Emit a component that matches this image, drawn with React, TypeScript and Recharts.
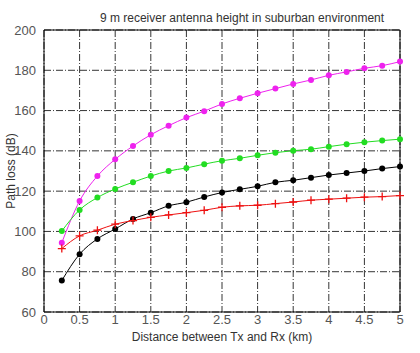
import React from "react";
import { CartesianGrid, Line, LineChart, ReferenceLine, XAxis, YAxis } from "recharts";

const distances = [0.25, 0.5, 0.75, 1, 1.25, 1.5, 1.75, 2, 2.25, 2.5, 2.75, 3, 3.25, 3.5, 3.75, 4, 4.25, 4.5, 4.75, 5];
const magentaLoss = [94.4, 115.1, 127.5, 135.8, 142.4, 148, 152.5, 156.5, 159.7, 163.3, 166.1, 168.6, 170.9, 173.2, 175.2, 177.5, 179.2, 181, 182.3, 184.3];
const greenLoss = [100.2, 110.7, 116.8, 121.1, 124.4, 127.5, 130, 131.5, 133.4, 135.1, 136.3, 137.8, 139.1, 140.1, 140.8, 142.1, 143.3, 144.3, 145.1, 145.8];
const blackLoss = [75.6, 88.7, 96.3, 101.2, 106.2, 109.3, 112.7, 114.5, 117.1, 119.3, 120.9, 122.4, 124.4, 125.4, 126.7, 128, 129, 130, 131.2, 132.2];
const redLoss = [91.5, 97.8, 100.6, 103.6, 105.4, 107, 108.2, 109.3, 110.5, 112, 112.7, 113, 113.8, 114.6, 115.5, 116, 116.5, 117, 117.3, 117.8];
const xTicks = [0, 0.5, 1, 1.5, 2, 2.5, 3, 3.5, 4, 4.5, 5];
const yTicks = [60, 80, 100, 120, 140, 160, 180, 200];

const data = distances.map((d, i) => ({
  d,
  magenta: magentaLoss[i],
  green: greenLoss[i],
  black: blackLoss[i],
  red: redLoss[i]
}));

const font = "'Liberation Sans', Arial, sans-serif";

const PlusDot = (props: any) => {
  const { cx, cy, index } = props;
  return (
    <path
      key={`p-${index}`}
      d={`M${cx - 4},${cy}H${cx + 4}M${cx},${cy - 4}V${cy + 4}`}
      stroke="#ee1111"
      strokeWidth={1.3}
    />
  );
};

export default function App() {
  return (
    <div style={{ position: "absolute", left: 0, top: 0, width: 420, height: 353, background: "#fff", fontFamily: font }}>
      <div style={{ position: "absolute", top: 11, left: 0, width: 484, textAlign: "center", fontSize: 12, color: "#333" }}>
        9 m receiver antenna height in suburban environment
      </div>
      <LineChart width={420} height={353} data={data} margin={{ top: 30, right: 20, left: 0, bottom: 0 }}>
        <CartesianGrid stroke="#000" strokeDasharray="7 2 1 2" strokeWidth={0.8} />
        <XAxis
          dataKey="d"
          type="number"
          domain={[0, 5]}
          ticks={xTicks}
          height={41}
          tickLine={false}
          axisLine={{ stroke: "#000" }}
          tick={{ fill: "#555", fontSize: 13, fontFamily: font, dy: -5 }}
          label={{ value: "Distance between Tx and Rx (km)", position: "insideBottom", offset: 12, fill: "#333", fontSize: 12, fontFamily: font }}
        />
        <YAxis
          type="number"
          domain={[60, 200]}
          ticks={yTicks}
          width={44}
          tickLine={false}
          axisLine={{ stroke: "#000" }}
          tick={{ fill: "#555", fontSize: 13, fontFamily: font }}
          label={{ value: "Path loss (dB)", angle: -90, position: "insideLeft", offset: 11, fill: "#333", fontSize: 12, fontFamily: font, style: { textAnchor: "middle" } }}
        />
        <ReferenceLine x={5} stroke="#000" />
        <ReferenceLine y={200} stroke="#000" />
        <Line dataKey="magenta" type="monotone" stroke="#ee22ee" strokeWidth={1} dot={{ r: 3, fill: "#ee22ee", stroke: "none" }} isAnimationActive={false} />
        <Line dataKey="green" type="monotone" stroke="#22dd22" strokeWidth={1} dot={{ r: 3, fill: "#22dd22", stroke: "none" }} isAnimationActive={false} />
        <Line dataKey="black" type="monotone" stroke="#000" strokeWidth={1} dot={{ r: 3, fill: "#000", stroke: "none" }} isAnimationActive={false} />
        <Line dataKey="red" type="monotone" stroke="#ee1111" strokeWidth={1} dot={PlusDot} isAnimationActive={false} />
      </LineChart>
    </div>
  );
}
